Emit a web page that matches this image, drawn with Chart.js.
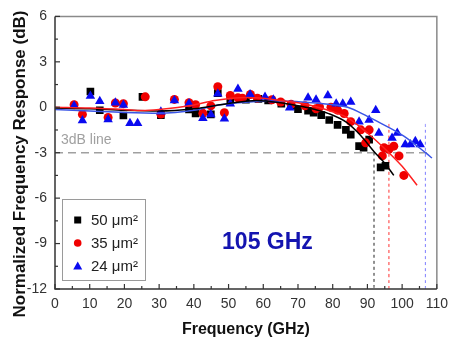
<!DOCTYPE html>
<html>
<head>
<meta charset="utf-8">
<script src="https://cdn.jsdelivr.net/npm/chart.js@4.4.1/dist/chart.umd.min.js"></script>
<style>
  html, body { margin: 0; padding: 0; background: #fff; }
  #wrap { width: 455px; height: 343px; }
</style>
</head>
<body>
<div id="wrap"><canvas id="freqChart"></canvas></div>
<script>
// Measured response, frequency in GHz and response in dB
const freq50 = [10.2, 12.9, 19.7, 25.2, 30.5, 38.6, 40.5, 44.9, 46.9, 50.5, 55, 58.6, 61.4, 65.2, 68, 70, 72.9, 74.5, 76.7, 79, 81.4, 83.8, 85.2, 87.6, 88.9, 90.5, 93.8, 95.2];
const resp50 = [1.04, -0.2, -0.54, 0.69, -0.52, -0.15, -0.41, -0.47, 0.93, 0.5, 0.5, 0.55, 0.45, 0.24, 0.1, -0.13, -0.23, -0.35, -0.52, -0.84, -1.16, -1.49, -1.81, -2.57, -2.67, -2.14, -3.97, -3.86];

const freq35 = [5.5, 7.9, 15.3, 17.4, 19.7, 26, 30.5, 34.4, 38.6, 40.5, 42.6, 44.9, 46.9, 48.8, 50.5, 52.7, 54, 56.3, 58.3, 62.5, 65, 68, 72, 75.2, 76.2, 79.5, 81.4, 83.3, 85.2, 88.1, 89.5, 90.5, 94.3, 94.8, 96.2, 97.6, 99.1, 100.5];
const resp35 = [0.17, -0.47, -0.67, 0.28, 0.24, 0.69, -0.45, 0.52, 0.3, 0.17, -0.4, 0.09, 1.36, -0.36, 0.78, 0.63, 0.6, 0.84, 0.6, 0.5, 0.35, 0.2, 0.1, -0.1, 0.02, 0, -0.19, -0.41, -0.95, -1.49, -2.35, -1.49, -3.21, -2.67, -2.78, -2.57, -3.21, -4.5];

const freq24 = [5.5, 7.9, 10.2, 12.9, 15.3, 17.4, 19.7, 21.6, 23.8, 30.5, 34.4, 38.6, 42.6, 44.9, 46.9, 48.8, 50.5, 52.7, 56.2, 60.5, 62.9, 67.6, 72.9, 75.2, 78.6, 81, 82.9, 85.2, 87.6, 90.5, 92.4, 93.3, 97.1, 98.6, 100.9, 102.4, 103.8, 105.2];
const resp24 = [0.1, -0.87, 0.75, 0.4, -0.8, 0.3, 0.15, -1.05, -1.05, -0.3, 0.45, 0.25, -0.73, -0.47, 0.9, -0.75, 0.24, 1.21, 0.84, 0.67, 0.5, -0.04, 0.63, 0.5, 0.78, 0.24, 0.24, 0.35, -0.95, -0.84, -0.19, -1.7, -2.03, -1.7, -2.46, -2.46, -2.24, -2.46];

// Fitted curves
const fitFreq50 = [0, 10, 20, 30, 40, 50, 58, 65, 70, 75, 78.6, 84, 88, 92, 95, 97.6];
const fitResp50 = [-0.05, -0.1, -0.2, -0.25, -0.1, 0.25, 0.45, 0.3, 0.1, -0.15, -0.4, -1.0, -1.85, -2.95, -3.7, -4.5];
const fitFreq35 = [0, 10, 20, 25, 30, 40, 46, 55, 60, 65, 70, 75, 80, 84.3, 90, 96.2, 100, 104.3];
const fitResp35 = [0, -0.05, -0.15, -0.22, -0.15, 0.15, 0.45, 0.65, 0.6, 0.45, 0.3, 0.05, -0.3, -0.7, -1.7, -3.0, -3.9, -5.15];
const fitFreq24 = [0, 10, 20, 30, 40, 46, 52, 58, 65, 75, 84.3, 90, 93, 100.5, 107, 108.6];
const fitResp24 = [-0.15, -0.25, -0.35, -0.4, -0.2, 0.1, 0.28, 0.38, 0.42, 0.28, 0, -0.6, -0.95, -1.9, -3.05, -3.35];

// -3 dB reference line and bandwidth markers
const refLineFreq = [0, 108.5];
const refLineResp = [-3, -3];
const cutoffFreq = [91.9, 96.2, 106.7];
const cutoffTop = [-3, -1.1, -1.1];

const xTickValues = [0, 10, 20, 30, 40, 50, 60, 70, 80, 90, 100, 110];
const yTickValues = [-12, -9, -6, -3, 0, 3, 6];
const seriesLabels = ['50 \u03bcm\u00b2', '35 \u03bcm\u00b2', '24 \u03bcm\u00b2'];

const FONT = '"Liberation Sans", Arial, sans-serif';
const C = {
  black: '#000000',
  red: '#f00000',
  blue: '#0a0af0',
  fitBlue: '#3a55e6',
  refGray: '#a0a0a0',
};

function toPoints(xs, ys) {
  return xs.map((x, i) => ({ x, y: ys[i] }));
}

function markerSet(xs, ys, color, style, radius, order) {
  return {
    data: toPoints(xs, ys),
    showLine: false,
    pointStyle: style,
    pointRadius: radius,
    pointBackgroundColor: color,
    pointBorderColor: color,
    pointBorderWidth: 0,
    order,
  };
}

function lineSet(xs, ys, color, width, dash, order) {
  return {
    data: toPoints(xs, ys),
    showLine: true,
    borderColor: color,
    borderWidth: width,
    borderDash: dash,
    pointRadius: 0,
    cubicInterpolationMode: 'monotone',
    order,
  };
}

const cutoffColors = ['#222222', '#ff3030', '#7f7fff'];
const cutoffSets = cutoffFreq.map((f, i) =>
  lineSet([f, f], [cutoffTop[i], -12], cutoffColors[i], 1, [3, 3], 9));

// Frame, inward ticks, free text and the legend box
const decorations = {
  id: 'decorations',
  beforeDatasetsDraw(chart) {
    const { ctx, chartArea: a, scales: { y } } = chart;
    ctx.save();
    ctx.fillStyle = C.refGray;
    ctx.font = `14px ${FONT}`;
    ctx.textBaseline = 'middle';
    ctx.fillText('3dB line', a.left + 6, y.getPixelForValue(-2.15));
    ctx.restore();
  },
  afterDraw(chart) {
    const { ctx, chartArea: a, scales: { x, y } } = chart;
    ctx.save();

    // top/right border lighter than the axes
    ctx.lineWidth = 1.5;
    ctx.strokeStyle = '#8a8a8a';
    ctx.beginPath();
    ctx.moveTo(a.left, a.top);
    ctx.lineTo(a.right, a.top);
    ctx.lineTo(a.right, a.bottom);
    ctx.stroke();
    ctx.strokeStyle = '#333';
    ctx.beginPath();
    ctx.moveTo(a.left, a.top);
    ctx.lineTo(a.left, a.bottom);
    ctx.lineTo(a.right, a.bottom);
    ctx.stroke();

    ctx.lineWidth = 1.2;
    for (let v = 0; v <= 110; v += 5) {
      const px = x.getPixelForValue(v);
      const len = v % 10 === 0 ? 5 : 3;
      ctx.beginPath();
      ctx.moveTo(px, a.bottom);
      ctx.lineTo(px, a.bottom - len);
      ctx.stroke();
    }
    for (let v = -12; v <= 6; v += 1.5) {
      const py = y.getPixelForValue(v);
      const len = v % 3 === 0 ? 5 : 3;
      ctx.beginPath();
      ctx.moveTo(a.left, py);
      ctx.lineTo(a.left + len, py);
      ctx.stroke();
    }

    // y axis title
    ctx.fillStyle = '#111';
    ctx.font = `bold 17px ${FONT}`;
    ctx.textAlign = 'center';
    ctx.textBaseline = 'middle';
    ctx.translate(20, 164);
    ctx.rotate(-Math.PI / 2);
    ctx.fillText('Normalized Frequency Response (dB)', 0, 0);
    ctx.setTransform(1, 0, 0, 1, 0, 0);

    // bandwidth note
    ctx.fillStyle = '#1414b0';
    ctx.font = `bold 23px ${FONT}`;
    ctx.fillText('105 GHz', x.getPixelForValue(61.2), y.getPixelForValue(-8.92));

    // legend
    const bx = a.left + 7, by = 199, bw = 83, bh = 81;
    ctx.fillStyle = '#fff';
    ctx.fillRect(bx, by, bw, bh);
    ctx.strokeStyle = '#9a9a9a';
    ctx.lineWidth = 1;
    ctx.strokeRect(bx + 0.5, by + 0.5, bw, bh);

    const rows = [220, 243, 266];
    const mx = 77.7;
    ctx.fillStyle = C.black;
    ctx.fillRect(mx - 3.5, rows[0] - 3.5, 7, 7);
    ctx.fillStyle = C.red;
    ctx.beginPath();
    ctx.arc(mx, rows[1], 3.8, 0, Math.PI * 2);
    ctx.fill();
    ctx.fillStyle = C.blue;
    ctx.beginPath();
    ctx.moveTo(mx, rows[2] - 4.5);
    ctx.lineTo(mx + 4.5, rows[2] + 3.5);
    ctx.lineTo(mx - 4.5, rows[2] + 3.5);
    ctx.closePath();
    ctx.fill();

    ctx.fillStyle = '#222';
    ctx.font = `15px ${FONT}`;
    ctx.textAlign = 'left';
    seriesLabels.forEach((t, i) => ctx.fillText(t, 91, rows[i] + 1));

    ctx.restore();
  },
};

const ctx = document.getElementById('freqChart').getContext('2d');
new Chart(ctx, {
  type: 'scatter',
  data: {
    datasets: [
      lineSet(refLineFreq, refLineResp, C.refGray, 1.5, [8, 5], 10),
      ...cutoffSets,
      markerSet(freq50, resp50, C.black, 'rect', 5.4, 6),
      markerSet(freq35, resp35, C.red, 'circle', 4.5, 5),
      markerSet(freq24, resp24, C.blue, 'triangle', 5.5, 4),
      lineSet(fitFreq24, fitResp24, C.fitBlue, 1.5, [], 3),
      lineSet(fitFreq50, fitResp50, C.black, 1.5, [], 2),
      lineSet(fitFreq35, fitResp35, '#ff2020', 1.5, [], 1),
    ],
  },
  options: {
    responsive: true,
    maintainAspectRatio: false,
    animation: false,
    events: [],
    layout: { padding: { top: 11, right: 15, left: 0, bottom: 0 } },
    plugins: {
      legend: { display: false },
      tooltip: { enabled: false },
    },
    scales: {
      x: {
        type: 'linear',
        min: 0,
        max: 110,
        afterBuildTicks: s => { s.ticks = xTickValues.map(value => ({ value })); },
        afterFit: s => { s.height = 54; },
        grid: { display: false, drawTicks: false },
        border: { display: false },
        ticks: {
          padding: 7,
          color: '#333',
          font: { family: FONT, size: 14 },
          maxRotation: 0,
        },
        title: {
          display: true,
          text: 'Frequency (GHz)',
          color: '#111',
          font: { family: FONT, size: 16, weight: 'bold' },
          padding: { top: 0, bottom: 4 },
        },
      },
      y: {
        type: 'linear',
        min: -12,
        max: 6,
        afterBuildTicks: s => { s.ticks = yTickValues.map(value => ({ value })); },
        afterFit: s => { s.width = 55; },
        grid: { display: false, drawTicks: false },
        border: { display: false },
        ticks: {
          padding: 8,
          color: '#333',
          font: { family: FONT, size: 14 },
        },
      },
    },
  },
  plugins: [decorations],
});
</script>
</body>
</html>
